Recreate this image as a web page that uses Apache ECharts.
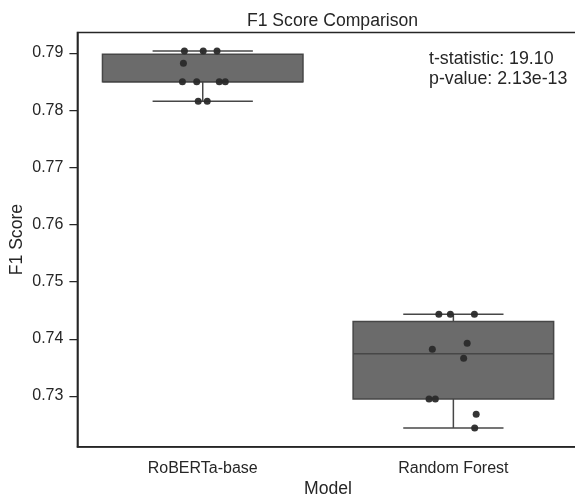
<!DOCTYPE html>
<html>
<head>
<meta charset="utf-8">
<script src="https://cdn.jsdelivr.net/npm/echarts@6/dist/echarts.min.js"></script>
<style>html,body{margin:0;padding:0;background:#fff;}#c{width:575px;height:497px;}</style>
</head>
<body>
<div id="c"></div>
<script>
const categories = ['RoBERTa-base', 'Random Forest'];
const robertaScores = [0.79035, 0.79035, 0.79035, 0.78820, 0.78498, 0.78498, 0.78498, 0.78498, 0.78155, 0.78155];
const robertaJitter = [-0.073, 0.002, 0.057, -0.077, -0.081, -0.024, 0.066, 0.090, -0.018, 0.018];
const forestScores = [0.74429, 0.74429, 0.74429, 0.73922, 0.73817, 0.73660, 0.72948, 0.72948, 0.72680, 0.72440];
const forestJitter = [-0.058, -0.012, 0.084, 0.055, -0.084, 0.041, -0.097, -0.072, 0.091, 0.085];
const yTicks = [0.73, 0.74, 0.75, 0.76, 0.77, 0.78, 0.79];
const annotationLines = ['t-statistic: 19.10', 'p-value: 2.13e-13'];

const FONT = '"Liberation Sans", Arial, Helvetica, sans-serif';
const INK = '#262626';

function quantile(sorted, q) {
  const pos = (sorted.length - 1) * q;
  const lo = Math.floor(pos), hi = Math.ceil(pos);
  return sorted[lo] + (sorted[hi] - sorted[lo]) * (pos - lo);
}
function boxStats(values) {
  const s = values.slice().sort((a, b) => a - b);
  const q1 = quantile(s, 0.25), med = quantile(s, 0.5), q3 = quantile(s, 0.75);
  const iqr = q3 - q1;
  const inside = s.filter(v => v >= q1 - 1.5 * iqr && v <= q3 + 1.5 * iqr);
  return [inside[0], q1, med, q3, inside[inside.length - 1]];
}

const groups = [robertaScores, forestScores];
const jitters = [robertaJitter, forestJitter];
const boxData = groups.map((g, i) => [i].concat(boxStats(g)));
const pointData = [];
groups.forEach((g, i) => g.forEach((v, j) => pointData.push([i + jitters[i][j], v])));

const BOX_FILL = '#6b6b6b';
const BOX_EDGE = '#474747';

const chart = echarts.init(document.getElementById('c'), null, {renderer: 'canvas'});
chart.setOption({
  animation: false,
  backgroundColor: '#ffffff',
  title: {
    text: 'F1 Score Comparison',
    left: 327.5,
    textAlign: 'center',
    top: 7,
    textStyle: {fontFamily: FONT, fontSize: 17.6, fontWeight: 'normal', color: INK}
  },
  grid: {
    left: 77.4, top: 32.5, width: 501.3, height: 414.2,
    outerBoundsMode: 'none',
    containLabel: false,
    show: true, borderColor: INK, borderWidth: 1.5, backgroundColor: 'transparent'
  },
  xAxis: [{
    type: 'category',
    data: categories,
    boundaryGap: true,
    name: 'Model',
    nameLocation: 'middle',
    nameGap: 33,
    nameMoveOverlap: false,
    nameTextStyle: {fontFamily: FONT, fontSize: 17.6, color: INK},
    axisLine: {onZero: false, lineStyle: {color: INK, width: 1.5}},
    axisTick: {alignWithLabel: true, length: 8, lineStyle: {color: INK, width: 1.25}},
    axisLabel: {fontFamily: FONT, fontSize: 16, color: INK, margin: 14},
    splitLine: {show: false}
  }, {
    type: 'value',
    min: -0.5, max: 1.5,
    show: false
  }],
  yAxis: {
    type: 'value',
    min: 0.72113,
    max: 0.7936,
    name: 'F1 Score',
    nameLocation: 'middle',
    nameGap: 51,
    nameMoveOverlap: false,
    nameTextStyle: {fontFamily: FONT, fontSize: 17.6, color: INK},
    axisLine: {show: true, onZero: false, lineStyle: {color: INK, width: 1.5}},
    axisTick: {show: true, length: 8, customValues: yTicks, lineStyle: {color: INK, width: 1.25}},
    axisLabel: {fontFamily: FONT, fontSize: 16, color: INK, margin: 14, customValues: yTicks,
      formatter: v => v.toFixed(2)},
    splitLine: {show: false}
  },
  graphic: [{
    type: 'text',
    left: 429,
    top: 49.5,
    style: {
      text: annotationLines.join('\n'),
      font: '17.8px ' + FONT,
      lineHeight: 20,
      fill: INK
    },
    z: 100
  }],
  series: [{
    type: 'custom',
    xAxisIndex: 0,
    yAxisIndex: 0,
    data: boxData,
    z: 2,
    renderItem: function (params, api) {
      const x = api.value(0);
      const band = api.size([1, 0])[0];
      const cx = api.coord([x, api.value(3)])[0];
      const yMin = api.coord([x, api.value(1)])[1];
      const yQ1 = api.coord([x, api.value(2)])[1];
      const yMed = api.coord([x, api.value(3)])[1];
      const yQ3 = api.coord([x, api.value(4)])[1];
      const yMax = api.coord([x, api.value(5)])[1];
      const bw = band * 0.8, cw = band * 0.4;
      const lineStyle = {stroke: BOX_EDGE, lineWidth: 1.5};
      return {
        type: 'group',
        children: [
          {type: 'line', shape: {x1: cx, y1: yQ3, x2: cx, y2: yMax}, style: lineStyle},
          {type: 'line', shape: {x1: cx, y1: yQ1, x2: cx, y2: yMin}, style: lineStyle},
          {type: 'line', shape: {x1: cx - cw / 2, y1: yMax, x2: cx + cw / 2, y2: yMax}, style: lineStyle},
          {type: 'line', shape: {x1: cx - cw / 2, y1: yMin, x2: cx + cw / 2, y2: yMin}, style: lineStyle},
          {type: 'rect', shape: {x: cx - bw / 2, y: yQ3, width: bw, height: yQ1 - yQ3},
            style: {fill: BOX_FILL, stroke: BOX_EDGE, lineWidth: 1.5}},
          {type: 'line', shape: {x1: cx - bw / 2, y1: yMed, x2: cx + bw / 2, y2: yMed}, style: lineStyle}
        ]
      };
    }
  }, {
    type: 'scatter',
    xAxisIndex: 1,
    yAxisIndex: 0,
    data: pointData,
    symbol: 'circle',
    symbolSize: 7,
    z: 5,
    itemStyle: {color: '#2a2a2a', opacity: 0.95},
    emphasis: {disabled: true}
  }]
});
</script>
</body>
</html>
